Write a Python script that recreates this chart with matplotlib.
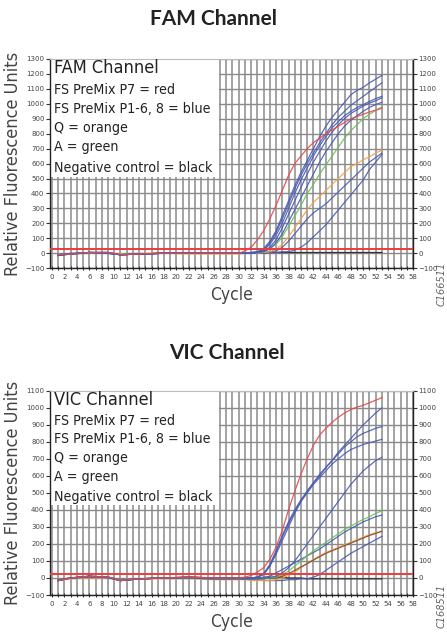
import matplotlib
matplotlib.use("Agg")
import matplotlib.pyplot as plt
from matplotlib.patches import Rectangle
from matplotlib.ticker import MultipleLocator

# sampled cycles (baseline sparse, then every cycle once amplification starts)
cycles = [1, 3, 6, 9, 11, 14, 18, 22, 26, 30,
          31, 32, 33, 34, 35, 36, 37, 38, 39, 40, 41, 42,
          43, 44, 45, 46, 47, 48, 49, 50, 51, 52, 53]

# FAM channel curves
fam_red = [-10, -5, 5, 5, -10, -5, 0, 0, 0, 0,
           15, 40, 90, 150, 230, 320, 420, 520, 600, 650, 700, 740,
           770, 800, 825, 850, 875, 900, 915, 930, 945, 958, 970]
fam_blue1 = [-15, -5, 5, 0, -10, -5, 0, 0, 0, 0,
             0, 5, 10, 30, 80, 150, 250, 350, 450, 540, 620, 700,
             780, 850, 910, 960, 1010, 1060, 1090, 1110, 1140, 1165, 1190]
fam_blue2 = [-15, -5, 5, 5, -10, -5, 0, 0, 0, 0,
             0, 5, 10, 25, 70, 140, 230, 330, 430, 520, 600, 670,
             740, 800, 860, 910, 950, 990, 1020, 1050, 1080, 1110, 1140]
fam_blue3 = [-10, -5, 5, 0, -10, -5, 0, 0, 0, 0,
             0, 0, 5, 20, 60, 120, 200, 300, 400, 490, 570, 650,
             720, 780, 840, 880, 920, 950, 975, 995, 1015, 1035, 1050]
fam_blue4 = [-15, 0, 5, 5, -10, -5, 0, 0, 0, 0,
             0, 0, 5, 15, 40, 90, 170, 260, 350, 440, 530, 610,
             680, 750, 810, 860, 900, 935, 960, 985, 1005, 1020, 1040]
fam_blue5 = [-10, -5, 5, 0, -10, -5, 0, 0, 0, 0,
             0, 0, 5, 10, 30, 70, 130, 210, 290, 370, 450, 530,
             610, 680, 740, 800, 850, 890, 920, 950, 975, 995, 1010]
fam_green = [-10, -5, 0, 0, -5, -5, 0, 0, 0, 0,
             0, 0, 5, 10, 30, 60, 110, 180, 250, 320, 400, 460,
             530, 590, 650, 710, 770, 820, 860, 900, 930, 955, 980]
fam_orange = [-10, -5, 0, 0, -5, 0, 0, -5, -5, -5,
              0, 0, 0, 5, 10, 25, 60, 110, 170, 230, 290, 340,
              380, 420, 460, 500, 540, 580, 600, 625, 645, 670, 690]
fam_blue6 = [-15, -5, 5, 0, -10, -5, 0, 0, 0, 0,
             0, 0, 0, 5, 10, 15, 40, 80, 130, 180, 230, 270,
             300, 330, 370, 410, 450, 490, 530, 570, 610, 640, 670]
fam_blue7 = [-10, -5, 5, 0, -10, -5, 0, 0, 0, 0,
             0, 0, 0, 0, 5, 5, 10, 10, 20, 40, 70, 110,
             150, 190, 240, 290, 340, 390, 440, 490, 560, 610, 660]
fam_black = [-10, -5, 5, 5, -10, -5, 0, 0, 0, 0,
             0, 0, 0, 5, 5, 5, 5, 5, 5, 5, 5, 5,
             5, 5, 5, 5, 5, 5, 5, 5, 5, 5, 5]
fam_threshold = 28

# VIC channel curves
vic_red = [-15, 0, 10, 5, -15, -5, 0, 5, 0, 0,
           5, 15, 35, 60, 110, 180, 280, 400, 510, 610, 700, 780,
           840, 880, 915, 945, 970, 990, 1005, 1015, 1030, 1045, 1060]
vic_blue1 = [-15, 0, 10, 5, -15, -5, 0, 5, 0, 0,
             0, 0, 5, 25, 70, 140, 220, 300, 380, 450, 510, 560,
             610, 650, 690, 740, 780, 820, 860, 900, 935, 970, 1000]
vic_blue2 = [-10, 0, 10, 5, -15, -5, 0, 5, 0, 0,
             0, 0, 5, 25, 80, 160, 250, 330, 400, 460, 510, 560,
             600, 650, 690, 730, 770, 800, 830, 850, 865, 880, 890]
vic_blue3 = [-15, 0, 5, 5, -15, -5, 0, 5, 0, 0,
             0, 0, 5, 20, 70, 150, 240, 320, 390, 450, 500, 550,
             590, 630, 670, 700, 730, 755, 770, 785, 795, 805, 815]
vic_blue4 = [-15, 0, 10, 0, -15, -5, 0, 0, -5, -5,
             -5, -5, -5, 0, 5, 10, 30, 60, 100, 150, 200, 250,
             300, 350, 400, 450, 500, 550, 590, 630, 660, 690, 710]
vic_green = [-10, 0, 5, 5, -10, -5, 0, 0, -5, -5,
             -5, -5, -5, 0, 0, 5, 20, 40, 70, 100, 130, 160,
             185, 210, 235, 260, 285, 305, 325, 345, 360, 380, 395]
vic_blue5 = [-15, 0, 10, 5, -15, -5, 0, 0, -5, -5,
             -5, -5, 0, 5, 10, 30, 50, 70, 90, 110, 130, 150,
             170, 195, 220, 245, 270, 290, 310, 330, 345, 360, 370]
vic_brown = [-10, 0, 5, 5, -10, -5, 0, 0, -5, -5,
             -5, -5, -5, -5, 0, 0, 10, 25, 45, 65, 85, 105,
             125, 145, 160, 175, 190, 205, 220, 235, 250, 262, 275]
vic_orange = [-10, -5, 0, 0, -10, -5, -5, -5, -10, -10,
              -10, -15, -15, -15, -15, -10, 0, 15, 35, 60, 85, 110,
              130, 150, 165, 180, 195, 210, 225, 240, 255, 265, 275]
vic_blue6 = [-15, 0, 10, 5, -15, -5, 0, 0, -5, -5,
             -5, -10, -10, -15, -15, -15, -15, -10, -10, -5, -5, 5,
             20, 45, 70, 95, 120, 145, 165, 185, 205, 225, 245]
vic_black = [-15, 0, 10, 5, -15, -5, 0, 5, 0, 0,
             0, 0, 0, 0, 0, 5, 5, 0, 0, 0, -5, -5,
             -5, -5, -5, -5, -5, -5, -5, -5, -5, -5, -5]
vic_threshold = 25

legend_lines = ["FS PreMix P7 = red", "FS PreMix P1-6, 8 = blue", "Q = orange",
                "A = green", "Negative control = black"]

RED = "#e8474a"
BLUE = "#4a5cb0"
GREEN = "#6cbf5a"
ORANGE = "#f2a04e"
BROWN = "#8a4a2a"

narrow = dict(family="DejaVu Sans", stretch="condensed")


def draw_panel(ax, channel, curves, threshold, ymax, box_bottom):
    ax.set_xlim(-0.3, 58)
    ax.set_ylim(-100, ymax)
    ax.xaxis.set_major_locator(MultipleLocator(2))
    ax.xaxis.set_minor_locator(MultipleLocator(1))
    ax.yaxis.set_major_locator(MultipleLocator(100))
    ax.grid(True, which="both", axis="x", color="#8a8a8a", linewidth=1.1, zorder=0)
    ax.grid(True, which="major", axis="y", color="#8a8a8a", linewidth=1.0, zorder=0)
    ax.set_axisbelow(True)

    # white legend panel over the grid
    ax.add_patch(Rectangle((0, box_bottom), 0.465, 1 - box_bottom, transform=ax.transAxes,
                           facecolor="white", edgecolor="none", zorder=1))

    for values, color in curves:
        ax.plot(cycles, values, color=color, linewidth=0.9, alpha=0.9, zorder=3)
    ax.axhline(threshold, color="#ee3b3b", linewidth=1.4, zorder=4)

    ax.text(0.01, 0.955, channel, transform=ax.transAxes, fontsize=13,
            va="center", ha="left", color="#222222", zorder=5, **narrow)
    for frac, line in zip([0.85, 0.762, 0.67, 0.58, 0.48], legend_lines):
        ax.text(0.01, frac, line, transform=ax.transAxes, fontsize=10.2,
                va="center", ha="left", color="#222222", zorder=5, **narrow)

    ax.tick_params(axis="both", which="both", labelsize=5, colors="#333333",
                   labelcolor="#444444", width=0.8)
    ax.tick_params(axis="y", which="major", length=3, direction="out", right=True,
                   labelright=True, pad=1)
    ax.tick_params(axis="x", which="both", length=3, direction="inout", pad=3)
    for side in ["left", "bottom", "right"]:
        ax.spines[side].set_color("#222222")
        ax.spines[side].set_linewidth(1.0)
    ax.spines["top"].set_color("#bbbbbb")

    ax.set_ylabel("Relative Fluorescence Units", fontsize=13, color="#444444",
                  labelpad=2, **narrow)
    ax.set_xlabel("Cycle", fontsize=12.5, color="#444444", labelpad=4, **narrow)


fig = plt.figure(figsize=(4.47, 6.34), dpi=100)

ax_fam = fig.add_axes([0.112, 0.577, 0.812, 0.330])
fam_curves = [(fam_black, "#222222"), (fam_blue7, BLUE), (fam_blue6, BLUE),
              (fam_orange, ORANGE), (fam_green, GREEN), (fam_blue5, BLUE),
              (fam_blue4, BLUE), (fam_blue3, BLUE), (fam_blue2, BLUE),
              (fam_blue1, BLUE), (fam_red, RED)]
draw_panel(ax_fam, "FAM Channel", fam_curves, fam_threshold, 1300, 0.436)

ax_vic = fig.add_axes([0.112, 0.0615, 0.812, 0.322])
vic_curves = [(vic_black, "#222222"), (vic_blue6, BLUE), (vic_orange, ORANGE),
              (vic_brown, BROWN), (vic_blue5, BLUE), (vic_green, GREEN),
              (vic_blue4, BLUE), (vic_blue3, BLUE), (vic_blue2, BLUE),
              (vic_blue1, BLUE), (vic_red, RED)]
draw_panel(ax_vic, "VIC Channel", vic_curves, vic_threshold, 1100, 0.44)

fig.text(213 / 447, 1 - 19 / 634, "FAM Channel", fontsize=15, fontweight="bold",
         family="Lato", ha="center", va="center", color="#222222")
fig.text(227 / 447, 1 - 353 / 634, "VIC Channel", fontsize=15, fontweight="bold",
         family="Lato", ha="center", va="center", color="#222222")

# figure codes on the right margin
fig.text(442 / 447, 1 - 284 / 634, "C166511", rotation=90, fontsize=7, style="italic",
         color="#666666", ha="center", va="center")
fig.text(442 / 447, 1 - 606 / 634, "C168511", rotation=90, fontsize=7, style="italic",
         color="#666666", ha="center", va="center")

fig.savefig("out.png", dpi=100)
